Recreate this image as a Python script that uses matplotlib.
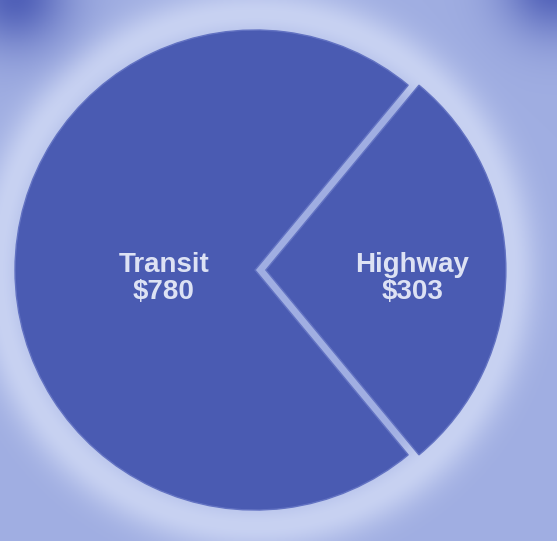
import numpy as np
import matplotlib.pyplot as plt

labels = ['Highway', 'Transit']
values = [303, 780]
explode = [0.045, 0.0]

pie_color = '#4a5bb2'
text_color = '#dde2f4'

fig = plt.figure(figsize=(5.57, 5.41), dpi=100)
ax = fig.add_axes([0, 0, 1, 1])
xlim = (-1.0625, 1.258)
ylim = (-1.129, 1.125)

# soft background: light periwinkle with a pale halo round the pie and darker corners
xs = np.linspace(xlim[0], xlim[1], 400)
ys = np.linspace(ylim[1], ylim[0], 400)
X, Y = np.meshgrid(xs, ys)
R = np.hypot(X, Y)
base = np.array([160, 174, 226]) / 255
pale = np.array([200, 210, 242]) / 255
dark = np.array([80, 96, 184]) / 255
halo = np.exp(-((R - 1.07) / 0.11) ** 2)
corner = np.exp(-((X + 1.0) ** 2 + (Y - 1.15) ** 2) / 0.05) + np.exp(-((X - 1.25) ** 2 + (Y - 1.2) ** 2) / 0.05)
corner = np.clip(corner, 0, 1)
img = base[None, None, :] * (1 - halo[..., None]) + pale[None, None, :] * halo[..., None]
img = img * (1 - corner[..., None]) + dark[None, None, :] * corner[..., None]
ax.imshow(img, extent=(xlim[0], xlim[1], ylim[0], ylim[1]), zorder=0, aspect='auto')

start = -values[0] / sum(values) * 360 / 2
wedges, _ = ax.pie(values, explode=explode, startangle=start, colors=[pie_color, pie_color],
                   radius=1.0, center=(0, 0), frame=True,
                   wedgeprops=dict(edgecolor='#6272c2', linewidth=1.0))
for w in wedges:
    w.set_zorder(2)

dist = {'Highway': 0.61, 'Transit': 0.38}
for w, lab, val, ex in zip(wedges, labels, values, explode):
    ang = np.deg2rad((w.theta1 + w.theta2) / 2)
    r = dist[lab] + ex
    ax.text(r * np.cos(ang), r * np.sin(ang) - 0.035, f'{lab}\n${val}',
            ha='center', va='center', fontsize=20, fontweight='bold',
            color=text_color, family=['Liberation Sans', 'DejaVu Sans'],
            linespacing=1.05, zorder=3)

ax.set_xlim(*xlim)
ax.set_ylim(*ylim)
ax.set_aspect('auto')
ax.axis('off')
fig.savefig('out.png', dpi=100)
